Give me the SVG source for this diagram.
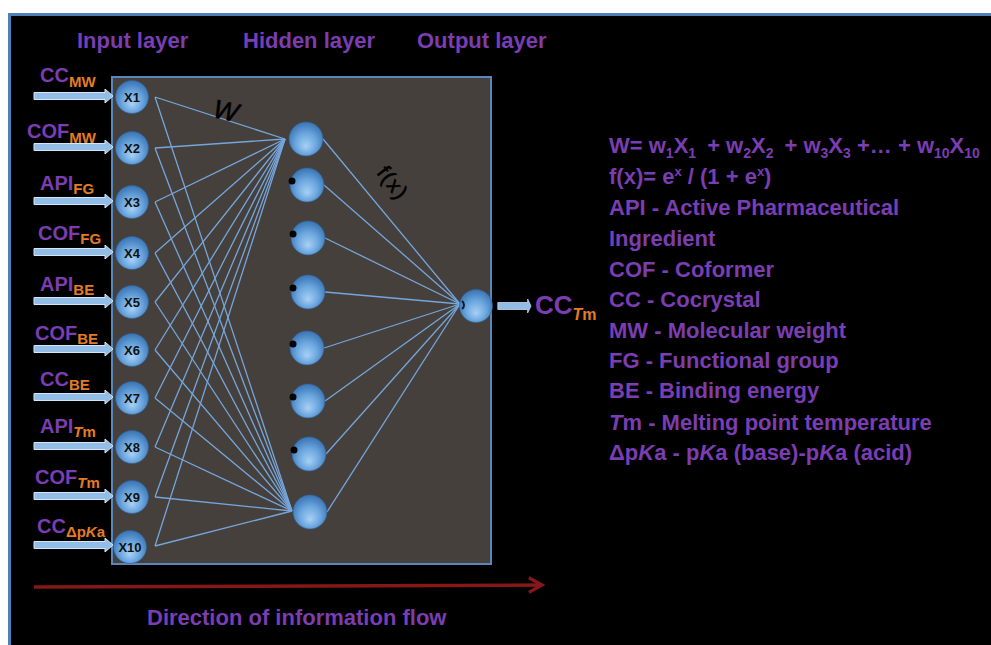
<svg xmlns="http://www.w3.org/2000/svg" width="991" height="645" viewBox="0 0 991 645">
  <defs>
    <radialGradient id="ball" cx="50%" cy="58%" r="55%" fx="50%" fy="72%">
      <stop offset="0" stop-color="#a8d0f4"/>
      <stop offset="0.55" stop-color="#6ca7df"/>
      <stop offset="1" stop-color="#3d78b8"/>
    </radialGradient>
    <marker id="redHead" viewBox="0 0 12 12" refX="10" refY="6" markerWidth="5" markerHeight="5" orient="auto" markerUnits="strokeWidth">
      <path d="M1,1 L10,6 L1,11" fill="none" stroke="#861818" stroke-width="2.2"/>
    </marker>
    <!-- input arrow shape, tip at origin -->
    <polygon id="inArrow" points="-79,-3.5 -8,-3.5 -8,-7 0,0 -8,7 -8,3.5 -79,3.5"/>
  </defs>
  <style>
    .purple { fill: #7a3db2; font-family: "Liberation Sans", Arial, sans-serif; font-weight: bold; }
    .orange { fill: #e47c24; }
    .head { font-size: 22px; }
    .lbl { font-size: 20px; }
    .sub { font-size: 15px; }
    .legend { font-size: 22px; }
    .node { fill: url(#ball); stroke: #2f5f96; stroke-width: 0.6; }
    .ntxt { font-family: "Liberation Sans", Arial, sans-serif; font-weight: bold; font-size: 13px; fill: #111; text-anchor: middle; }
    .arr { fill: #92bde6; stroke: #d3e7f8; stroke-width: 1; }
    .link { stroke: #74a6dc; stroke-width: 1.3; fill: none; }
    .dot { fill: #050505; }
    .mark { font-family: "Liberation Sans", Arial, sans-serif; fill: #000; stroke: #000; stroke-width: 0.6; }
  </style>

  <!-- page and frame -->
  <rect x="0" y="0" width="991" height="645" fill="#ffffff"/>
  <rect x="9" y="14" width="982" height="631" fill="#000000"/>
  <path d="M9.5,645 V14.5 H991" fill="none" stroke="#4f7fb8" stroke-width="3"/>

  <!-- network panel -->
  <rect x="112" y="77" width="379" height="487" fill="#46403c" stroke="#5a86ba" stroke-width="2"/>

  <!-- layer titles -->
  <text class="purple head" x="77" y="48">Input layer</text>
  <text class="purple head" x="243" y="48">Hidden layer</text>
  <text class="purple head" x="417" y="48">Output layer</text>

  <!-- connectors -->
  <g id="connectors">
    <!-- input to first and last hidden neuron -->
    <g class="link">
      <path d="M155,97 L285,139 M155,97 L292,511"/>
      <path d="M155,148 L285,139 M155,148 L292,511"/>
      <path d="M155,202 L285,139 M155,202 L292,511"/>
      <path d="M155,253 L285,139 M155,253 L292,511"/>
      <path d="M155,302 L285,139 M155,302 L292,511"/>
      <path d="M155,350 L285,139 M155,350 L292,511"/>
      <path d="M155,398 L285,139 M155,398 L292,511"/>
      <path d="M155,447 L285,139 M155,447 L292,511"/>
      <path d="M155,497 L285,139 M155,497 L292,511"/>
      <path d="M155,546 L285,139 M155,546 L292,511"/>
    </g>
    <!-- hidden to output -->
    <g class="link">
      <path d="M323,139 L460,304"/>
      <path d="M324,185 L460,304"/>
      <path d="M325,238 L460,304"/>
      <path d="M325,292 L460,304"/>
      <path d="M324,348 L460,304"/>
      <path d="M325,401 L460,304"/>
      <path d="M326,454 L460,304"/>
      <path d="M327,512 L460,304"/>
    </g>
    <!-- output arrow -->
    <use href="#inArrow" class="arr" transform="translate(531,306) scale(0.42,1)"/>
    <!-- direction of flow -->
    <line x1="34" y1="587" x2="542" y2="585" stroke="#861818" stroke-width="3.5" marker-end="url(#redHead)"/>
  </g>

  <text class="mark" x="0" y="0" font-style="italic" font-size="26" transform="translate(212,117) rotate(12)">W</text>
  <text class="mark" x="0" y="0" font-size="21" letter-spacing="1.5" transform="translate(376,173) rotate(52)">f(x)</text>

  <!-- input neurons -->
  <g id="in1"><use href="#inArrow" class="arr" transform="translate(113,96)"/><text class="purple lbl" x="40" y="82">CC<tspan class="orange sub" dy="5">MW</tspan></text><circle class="node" cx="132" cy="97" r="16.5"/><text class="ntxt" x="132" y="101.5">X1</text></g>
  <g id="in2"><use href="#inArrow" class="arr" transform="translate(113,147)"/><text class="purple lbl" x="27" y="138">COF<tspan class="orange sub" dy="5">MW</tspan></text><circle class="node" cx="132" cy="148" r="16.5"/><text class="ntxt" x="132" y="152.5">X2</text></g>
  <g id="in3"><use href="#inArrow" class="arr" transform="translate(113,201)"/><text class="purple lbl" x="40" y="190">API<tspan class="orange sub" dy="4">FG</tspan></text><circle class="node" cx="132" cy="202" r="16.5"/><text class="ntxt" x="132" y="206.5">X3</text></g>
  <g id="in4"><use href="#inArrow" class="arr" transform="translate(113,252)"/><text class="purple lbl" x="38" y="240">COF<tspan class="orange sub" dy="4">FG</tspan></text><circle class="node" cx="132" cy="253" r="16.5"/><text class="ntxt" x="132" y="257.5">X4</text></g>
  <g id="in5"><use href="#inArrow" class="arr" transform="translate(113,301)"/><text class="purple lbl" x="40" y="291">API<tspan class="orange sub" dy="4">BE</tspan></text><circle class="node" cx="132" cy="302" r="16.5"/><text class="ntxt" x="132" y="306.5">X5</text></g>
  <g id="in6"><use href="#inArrow" class="arr" transform="translate(113,349)"/><text class="purple lbl" x="35" y="340">COF<tspan class="orange sub" dy="4">BE</tspan></text><circle class="node" cx="132" cy="350" r="16.5"/><text class="ntxt" x="132" y="354.5">X6</text></g>
  <g id="in7"><use href="#inArrow" class="arr" transform="translate(113,397)"/><text class="purple lbl" x="40" y="386">CC<tspan class="orange sub" dy="4">BE</tspan></text><circle class="node" cx="132" cy="398" r="16.5"/><text class="ntxt" x="132" y="402.5">X7</text></g>
  <g id="in8"><use href="#inArrow" class="arr" transform="translate(113,446)"/><text class="purple lbl" x="40" y="433">API<tspan class="orange sub" dy="4" font-style="italic">T</tspan><tspan class="orange sub">m</tspan></text><circle class="node" cx="132" cy="447" r="16.5"/><text class="ntxt" x="132" y="451.5">X8</text></g>
  <g id="in9"><use href="#inArrow" class="arr" transform="translate(113,496)"/><text class="purple lbl" x="35" y="484">COF<tspan class="orange sub" dy="4" font-style="italic">T</tspan><tspan class="orange sub">m</tspan></text><circle class="node" cx="132" cy="497" r="16.5"/><text class="ntxt" x="132" y="501.5">X9</text></g>
  <g id="in10"><use href="#inArrow" class="arr" transform="translate(113,545)"/><text class="purple lbl" x="37" y="533">CC<tspan class="orange sub" dy="4" font-size="13">Δp</tspan><tspan class="orange sub" font-size="13" font-style="italic">K</tspan><tspan class="orange sub" font-size="13">a</tspan></text><circle class="node" cx="130" cy="547" r="16.5"/><text class="ntxt" x="130" y="551.5">X10</text></g>

  <!-- hidden neurons -->
  <g id="h1"><circle class="node" cx="306" cy="139" r="17"/></g>
  <g id="h2"><circle class="node" cx="307" cy="185" r="17"/><circle class="dot" cx="292" cy="181" r="3.5"/></g>
  <g id="h3"><circle class="node" cx="308" cy="238" r="17"/><circle class="dot" cx="293" cy="234" r="3.5"/></g>
  <g id="h4"><circle class="node" cx="308" cy="292" r="17"/><circle class="dot" cx="293" cy="288" r="3.5"/></g>
  <g id="h5"><circle class="node" cx="307" cy="348" r="17"/><circle class="dot" cx="293" cy="344" r="3.5"/></g>
  <g id="h6"><circle class="node" cx="308" cy="401" r="17"/><circle class="dot" cx="293" cy="397" r="3.5"/></g>
  <g id="h7"><circle class="node" cx="309" cy="454" r="17"/><circle class="dot" cx="294" cy="450" r="3.5"/></g>
  <g id="h8"><circle class="node" cx="310" cy="512" r="17"/></g>

  <!-- output neuron -->
  <g id="out">
    <circle class="node" cx="476" cy="306" r="16.5"/>
    <path d="M462,301 A5,5 0 0 1 462,309" fill="none" stroke="#0a1a33" stroke-width="2"/>
    <text class="purple" font-size="26" x="535" y="314">CC<tspan class="orange" font-size="16" dy="6" font-style="italic">T</tspan><tspan class="orange" font-size="16">m</tspan></text>
  </g>

  <!-- legend -->
  <g id="legend" class="purple legend">
    <text x="609" y="153">W= w<tspan font-size="14" dy="5">1</tspan><tspan dy="-5">X</tspan><tspan font-size="14" dy="5">1</tspan><tspan dy="-5" dx="11">+ w</tspan><tspan font-size="14" dy="5">2</tspan><tspan dy="-5">X</tspan><tspan font-size="14" dy="5">2</tspan><tspan dy="-5" dx="11">+ w</tspan><tspan font-size="14" dy="5">3</tspan><tspan dy="-5">X</tspan><tspan font-size="14" dy="5">3</tspan><tspan dy="-5"> +… + w</tspan><tspan font-size="14" dy="5">10</tspan><tspan dy="-5">X</tspan><tspan font-size="14" dy="5">10</tspan></text>
    <text x="609" y="184">f(x)= e<tspan font-size="13" dy="-8">x</tspan><tspan dy="8"> / (1 + e</tspan><tspan font-size="13" dy="-8">x</tspan><tspan dy="8">)</tspan></text>
    <text x="609" y="215">API - Active Pharmaceutical</text>
    <text x="609" y="246">Ingredient</text>
    <text x="609" y="277">COF - Coformer</text>
    <text x="609" y="307">CC - Cocrystal</text>
    <text x="609" y="338">MW - Molecular weight</text>
    <text x="609" y="368">FG - Functional group</text>
    <text x="609" y="398">BE - Binding energy</text>
    <text x="609" y="430"><tspan font-style="italic">T</tspan>m - Melting point temperature</text>
    <text x="609" y="460">Δp<tspan font-style="italic">K</tspan>a - p<tspan font-style="italic">K</tspan>a (base)-p<tspan font-style="italic">K</tspan>a (acid)</text>
  </g>

  <text class="purple legend" x="147" y="625">Direction of information flow</text>
</svg>
